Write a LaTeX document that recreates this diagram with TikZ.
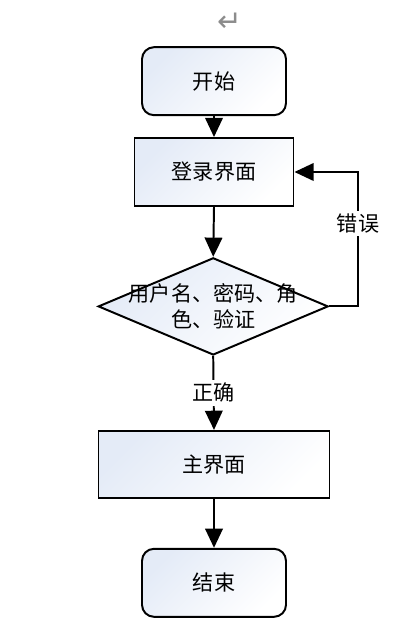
\documentclass[tikz,border=0pt]{standalone}
\usepackage{fontspec}
\setmainfont{Noto Sans CJK SC}
\newfontfamily\symfont{DejaVu Sans}
\usetikzlibrary{arrows.meta,shapes.geometric}
\definecolor{boxtint}{RGB}{228,235,247}
\begin{document}
\begin{tikzpicture}[
    font=\fontsize{15}{19}\selectfont,
    >={Triangle[length=0.48cm,width=0.44cm]},
    line width=1.4pt,
    caja/.style={
        draw,
        minimum width=3.975cm,
        minimum height=1.7cm,
        align=center,
        top color=boxtint,
        bottom color=white,
        shading angle=45
    },
    terminal/.style={
        caja,
        rounded corners=0.3cm,
        minimum width=3.6cm
    },
    decision/.style={
        draw,
        diamond,
        inner sep=0pt,
        minimum width=5.75cm,
        minimum height=2.43cm,
        top color=boxtint,
        bottom color=white,
        shading angle=45
    },
    etiqueta/.style={fill=white,inner sep=2pt}
]
    \useasboundingbox (0,0) rectangle (10.15,-15.6);

    \node[text=black!45,font=\symfont\fontsize{21}{24}\selectfont] (marca) at (5.75,-0.55) {↵};

    \node[terminal] (inicio) at (5.35,-2.03) {开始};
    \node[caja] (login) at (5.35,-4.3) {登录界面};
    \node[decision] (verif) at (5.33,-7.66) {};
    \node[align=center] (veriftxt) at (verif.center)
        {用户名、密码、角\\色、验证};
    \node[caja,minimum width=5.775cm,minimum height=1.675cm] (principal) at (5.35,-11.61) {主界面};
    \node[terminal] (fin) at (5.35,-14.57) {结束};

    \coordinate (giro) at (8.95,-7.66);

    \draw[->] (inicio.south) -- (login.north);
    \draw[->] (login.south) -- (verif.north);
    \draw[->] (verif.south) -- node[etiqueta] {正确} (principal.north);
    \draw[->] (principal.south) -- (fin.north);
    \draw[->] (verif.east) -- (giro) |- node[etiqueta,pos=0.31] {错误} (login.east);
\end{tikzpicture}
\end{document}
